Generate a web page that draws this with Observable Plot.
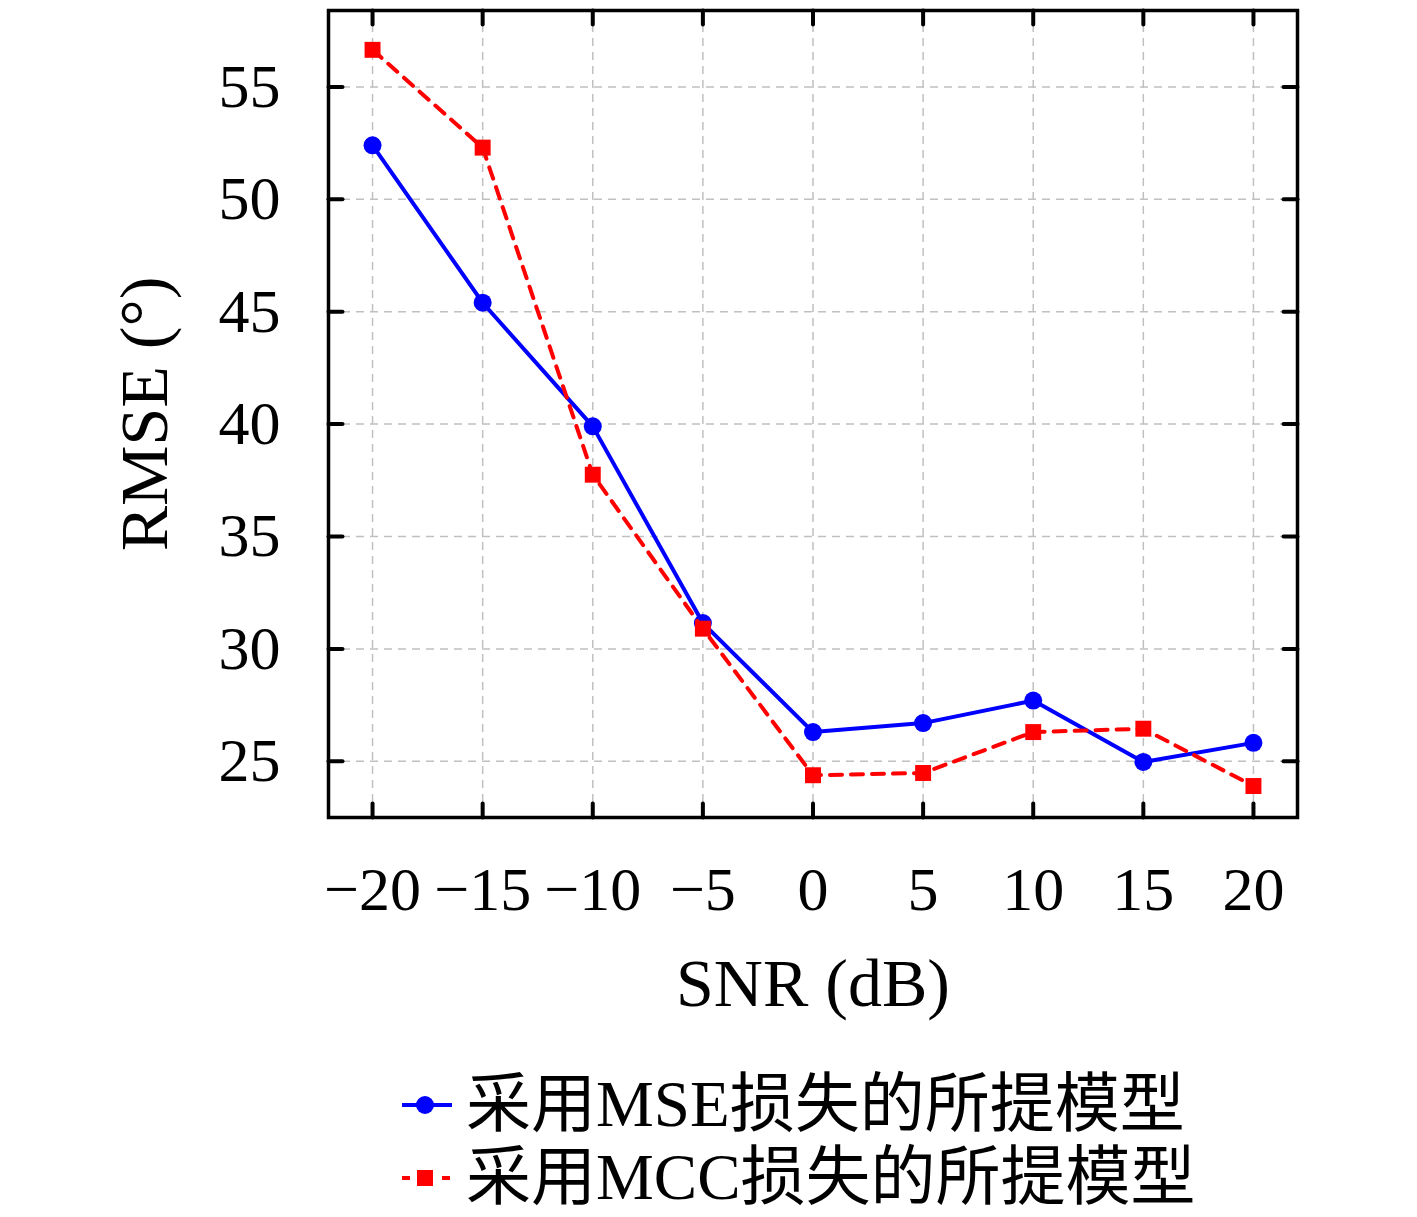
<!DOCTYPE html>
<html>
<head>
<meta charset="utf-8">
<script src="https://cdn.jsdelivr.net/npm/d3@7"></script>
<script src="https://cdn.jsdelivr.net/npm/@observablehq/plot@0.6"></script>
<style>
  html, body { margin: 0; padding: 0; background: #fff; }
  #wrap { position: relative; width: 1417px; height: 1217px; }
  #legend { position: absolute; left: 400px; top: 1068px; font-family: "Liberation Serif", "Noto Sans CJK SC", serif; font-size: 65px; line-height: 73px; color: #000; }
  .row { display: flex; align-items: center; height: 73px; }
  .row svg { margin-right: 12px; }
</style>
</head>
<body>
<div id="wrap">
<div id="chart"></div>
<div id="legend"></div>
</div>
<script>
const snr = [-20, -15, -10, -5, 0, 5, 10, 15, 20];
const rmseMSE = [52.4, 45.4, 39.9, 31.15, 26.3, 26.7, 27.7, 24.97, 25.82];
const rmseMCC = [56.65, 52.3, 37.75, 30.9, 24.38, 24.48, 26.3, 26.45, 23.9];
const xTicks = [-20, -15, -10, -5, 0, 5, 10, 15, 20];
const yTicks = [25, 30, 35, 40, 45, 50, 55];
const seriesNames = ["采用MSE损失的所提模型", "采用MCC损失的所提模型"];
const seriesColors = ["#0000ff", "#ff0000"];

const mse = snr.map((x, i) => ({x, y: rmseMSE[i]}));
const mcc = snr.map((x, i) => ({x, y: rmseMCC[i]}));

const fmt = d => d < 0 ? "\u2212" + Math.abs(d) : String(d);
const font = "Liberation Serif, serif";

const W = 1417, H = 1040, mL = 328, mR = 120, mT = 10, mB = 223;
const tickLen = 14;
const tickShape = {draw(context, l) { context.moveTo(0, 0); context.lineTo(0, -l); }};

const chart = Plot.plot({
  width: W,
  height: H,
  marginLeft: mL,
  marginRight: mR,
  marginTop: mT,
  marginBottom: mB,
  style: {fontFamily: font, background: "#fff"},
  x: {domain: [-22, 22]},
  y: {domain: [22.5, 58.4]},
  marks: [
    Plot.gridX(xTicks, {stroke: "#c0c0c0", strokeOpacity: 1, strokeWidth: 1.5, strokeDasharray: "8,6"}),
    Plot.gridY(yTicks, {stroke: "#c0c0c0", strokeOpacity: 1, strokeWidth: 1.5, strokeDasharray: "8,6"}),
    Plot.axisX(xTicks, {anchor: "bottom", tickSize: 0, tickPadding: 48, tickFormat: fmt, fontSize: 62, label: null}),
    Plot.axisY(yTicks, {anchor: "left", tickSize: 0, tickPadding: 48, fontSize: 62, label: null}),
    Plot.axisX([], {anchor: "bottom", tickSize: 0, fontSize: 68, label: "SNR (dB)", labelAnchor: "center", labelArrow: "none", labelOffset: 188}),
    Plot.axisY([], {anchor: "left", tickSize: 0, fontSize: 68, label: "RMSE (°)", labelAnchor: "center", labelArrow: "none", labelOffset: 210}),
    Plot.vector(xTicks, {x: d => d, frameAnchor: "bottom", length: tickLen, rotate: 0, anchor: "start", shape: tickShape, stroke: "#000", strokeWidth: 4}),
    Plot.vector(xTicks, {x: d => d, frameAnchor: "top", length: tickLen, rotate: 180, anchor: "start", shape: tickShape, stroke: "#000", strokeWidth: 4}),
    Plot.vector(yTicks, {y: d => d, frameAnchor: "left", length: tickLen, rotate: 90, anchor: "start", shape: tickShape, stroke: "#000", strokeWidth: 4}),
    Plot.vector(yTicks, {y: d => d, frameAnchor: "right", length: tickLen, rotate: -90, anchor: "start", shape: tickShape, stroke: "#000", strokeWidth: 4}),
    Plot.frame({stroke: "#000", strokeWidth: 3.5}),
    Plot.line(mse, {x: "x", y: "y", stroke: seriesColors[0], strokeWidth: 4}),
    Plot.dot(mse, {x: "x", y: "y", fill: seriesColors[0], r: 9, symbol: "circle"}),
    Plot.line(mcc, {x: "x", y: "y", stroke: seriesColors[1], strokeWidth: 4, strokeDasharray: "12,9"}),
    Plot.dot(mcc, {x: "x", y: "y", fill: seriesColors[1], r: 9, symbol: "square"})
  ]
});
document.getElementById("chart").appendChild(chart);

const legend = document.getElementById("legend");
seriesNames.forEach((name, i) => {
  const row = document.createElement("div");
  row.className = "row";
  const sym = i === 0
    ? `<circle cx="25" cy="15" r="9" fill="${seriesColors[0]}"/>`
    : `<rect x="17" y="7" width="16" height="16" fill="${seriesColors[1]}"/>`;
  const dash = i === 0 ? "" : ` stroke-dasharray="8,12"`;
  row.innerHTML = `<svg width="54" height="30"><line x1="2" y1="15" x2="52" y2="15" stroke="${seriesColors[i]}" stroke-width="4"${dash}/>${sym}</svg><span>${name}</span>`;
  legend.appendChild(row);
});
</script>
</body>
</html>
